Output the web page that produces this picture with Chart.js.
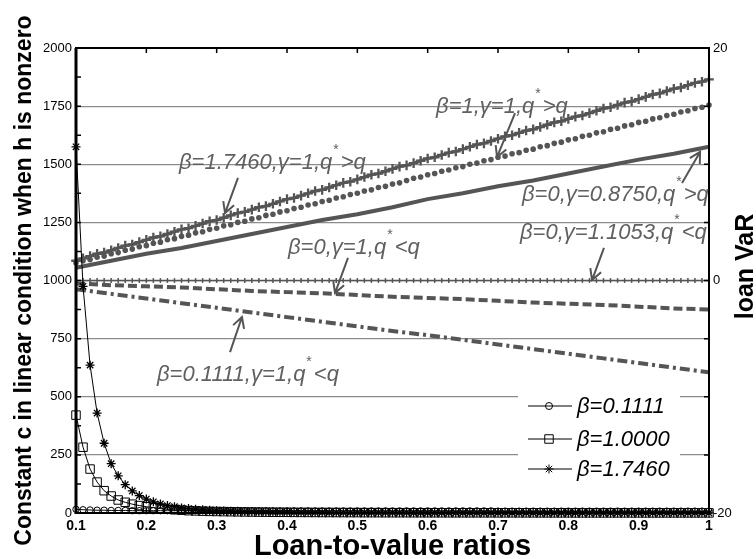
<!DOCTYPE html>
<html><head><meta charset="utf-8">
<script src="https://cdn.jsdelivr.net/npm/chart.js@4"></script>
<style>html,body{margin:0;padding:0;background:#fff}canvas{display:block}</style>
</head><body>
<canvas id="c" width="756" height="559"></canvas>
<script>
// ---------- data ----------
const ltv = [0.10,0.11,0.12,0.13,0.14,0.15,0.16,0.17,0.18,0.19,
  0.20,0.21,0.22,0.23,0.24,0.25,0.26,0.27,0.28,0.29,
  0.30,0.31,0.32,0.33,0.34,0.35,0.36,0.37,0.38,0.39,
  0.40,0.41,0.42,0.43,0.44,0.45,0.46,0.47,0.48,0.49,
  0.50,0.51,0.52,0.53,0.54,0.55,0.56,0.57,0.58,0.59,
  0.60,0.61,0.62,0.63,0.64,0.65,0.66,0.67,0.68,0.69,
  0.70,0.71,0.72,0.73,0.74,0.75,0.76,0.77,0.78,0.79,
  0.80,0.81,0.82,0.83,0.84,0.85,0.86,0.87,0.88,0.89,
  0.90,0.91,0.92,0.93,0.94,0.95,0.96,0.97,0.98,0.99,1.00];
const ltvCoarse = [0.10,0.15,0.20,0.25,0.30,0.35,0.40,0.45,0.50,0.55,0.60,0.65,0.70,0.75,0.80,0.85,0.90,0.95,1.00];

// Constant c (left axis), beta = 0.1111 / 1.0000 / 1.7460
const cBeta01111 = [16,14,13,12,12,11,11,11,10,10,
  10,10,10,10,10,10,10,10,10,10,
  9,9,9,9,9,9,9,9,9,9,
  9,9,9,9,9,9,9,9,9,9,
  9,9,9,9,9,9,9,9,9,9,
  9,9,9,9,9,9,9,9,9,9,
  8,8,8,8,8,8,8,8,8,8,
  8,8,8,8,8,8,8,8,8,8,
  8,8,8,8,8,8,8,8,8,8,8];
const cBeta10000 = [421,283,189,133,96,73,56,46,38,32,
  27,23,19,16,14,12,10,9,8,7,
  6.5,6,5.5,5,4.6,4.2,3.9,3.6,3.3,3.1,
  2.9,2.7,2.5,2.4,2.2,2.1,2.0,1.9,1.8,1.7,
  1.6,1.5,1.5,1.4,1.3,1.3,1.2,1.2,1.1,1.1,
  1.0,1.0,1.0,0.9,0.9,0.9,0.8,0.8,0.8,0.8,
  0.7,0.7,0.7,0.7,0.7,0.6,0.6,0.6,0.6,0.6,
  0.6,0.5,0.5,0.5,0.5,0.5,0.5,0.5,0.5,0.4,
  0.4,0.4,0.4,0.4,0.4,0.4,0.4,0.4,0.4,0.4,0.4];
const cBeta17460 = [1575,975,636,430,300,212,160,122,95,75,
  60,48,39,32,27,22,19,16,14,12,
  10,9,8,7,6,5.5,5,4.5,4,3.7,
  3.4,3.1,2.9,2.7,2.5,2.3,2.2,2.0,1.9,1.8,
  1.7,1.6,1.5,1.4,1.4,1.3,1.2,1.2,1.1,1.1,
  1.0,1.0,0.9,0.9,0.9,0.8,0.8,0.8,0.7,0.7,
  0.7,0.7,0.6,0.6,0.6,0.6,0.5,0.5,0.5,0.5,
  0.5,0.5,0.4,0.4,0.4,0.4,0.4,0.4,0.4,0.3,
  0.3,0.3,0.3,0.3,0.3,0.3,0.3,0.3,0.3,0.3,0.3];

// loan VaR (right axis)
const varB17460G1 = [1.7,1.9,2.1,2.3,2.4,2.6,2.8,3.0,3.1,3.3,
  3.5,3.7,3.8,4.0,4.2,4.4,4.5,4.7,4.9,5.1,
  5.2,5.4,5.6,5.8,5.9,6.1,6.3,6.4,6.6,6.8,
  7.0,7.1,7.3,7.5,7.7,7.8,8.0,8.2,8.4,8.5,
  8.7,8.9,9.1,9.2,9.4,9.6,9.8,9.9,10.1,10.3,
  10.5,10.6,10.8,11.0,11.1,11.3,11.5,11.7,11.8,12.0,
  12.2,12.4,12.5,12.7,12.9,13.0,13.2,13.4,13.6,13.7,
  13.9,14.1,14.2,14.4,14.6,14.8,14.9,15.1,15.3,15.4,
  15.6,15.8,16.0,16.1,16.3,16.5,16.6,16.8,17.0,17.1,17.3];
const varB1G1 = [1.5,1.7,1.8,2.0,2.1,2.3,2.4,2.6,2.7,2.9,
  3.0,3.2,3.3,3.5,3.6,3.8,3.9,4.1,4.2,4.4,
  4.5,4.7,4.8,5.0,5.1,5.3,5.4,5.6,5.7,5.9,
  6.0,6.2,6.3,6.5,6.6,6.8,6.9,7.1,7.2,7.4,
  7.5,7.7,7.8,8.0,8.1,8.3,8.4,8.6,8.8,8.9,
  9.1,9.2,9.4,9.5,9.7,9.8,10.0,10.1,10.3,10.4,
  10.6,10.7,10.9,11.0,11.2,11.3,11.5,11.6,11.8,11.9,
  12.1,12.2,12.4,12.5,12.7,12.8,13.0,13.1,13.3,13.4,
  13.6,13.7,13.9,14.0,14.2,14.3,14.5,14.6,14.8,14.9,15.1];
const varB0G11053 = [0,0,0,0,0,0,0,0,0,0,
  0,0,0,0,0,0,0,0,0,0,
  0,0,0,0,0,0,0,0,0,0,
  0,0,0,0,0,0,0,0,0,0,
  0,0,0,0,0,0,0,0,0,0,
  0,0,0,0,0,0,0,0,0,0,
  0,0,0,0,0,0,0,0,0,0,
  0,0,0,0,0,0,0,0,0,0,
  0,0,0,0,0,0,0,0,0,0,0];
const varB0G08750 = [1.1,1.7,2.3,2.8,3.4,4.0,4.6,5.2,5.7,6.3,7.0,7.5,8.1,8.6,9.2,9.8,10.4,10.9,11.5];
const varB0G1 = [-0.25,-0.4,-0.5,-0.6,-0.75,-0.9,-1.0,-1.1,-1.25,-1.4,-1.5,-1.6,-1.75,-1.9,-2.0,-2.1,-2.25,-2.4,-2.5];
const varB01111G1 = [-0.75,-1.15,-1.55,-1.95,-2.35,-2.75,-3.15,-3.55,-3.95,-4.35,-4.7,-5.1,-5.5,-5.9,-6.3,-6.7,-7.1,-7.5,-7.9];

const xTickLabels = ['0.1','0.2','0.3','0.4','0.5','0.6','0.7','0.8','0.9','1'];
const yTickLabels = ['0','250','500','750','1000','1250','1500','1750','2000'];
const y1TickLabels = ['-20','0','20'];
const xTickValues = [0.1,0.2,0.3,0.4,0.5,0.6,0.7,0.8,0.9,1.0];
const yMinorTicks = [0,125,250,375,500,625,750,875,1000,1125,1250,1375,1500,1625,1750,1875,2000];
const y1MinorTicks = [-20,-15,-10,-5,0,5,10,15,20];

const legendLabels = ['\u03B2=0.1111','\u03B2=1.0000','\u03B2=1.7460'];
const xTitle = 'Loan-to-value ratios';
const yTitle = 'Constant c in linear condition when h is nonzero';
const y1Title = 'loan VaR';

// annotations: text parts, anchor (x, left-axis value), arrow from/to in data units
const annotations = [
  {pre:'\u03B2=1,\u03B3=1,q', post:'>q', x:0.612, y:1746, from:[0.7242,1720], to:[0.6986,1531]},
  {pre:'\u03B2=1.7460,\u03B3=1,q', post:'>q', x:0.2465, y:1505, from:[0.3303,1441], to:[0.3119,1290]},
  {pre:'\u03B2=0,\u03B3=0.8750,q', post:'>q', x:0.7342, y:1368, from:[0.9617,1419], to:[0.9873,1553]},
  {pre:'\u03B2=0,\u03B3=1.1053,q', post:'<q', x:0.7313, y:1204, from:[0.8507,1140], to:[0.8337,1002]},
  {pre:'\u03B2=0,\u03B3=1,q', post:'<q', x:0.4014, y:1140, from:[0.4867,1097], to:[0.4683,946]},
  {pre:'\u03B2=0.1111,\u03B3=1,q', post:'<q', x:0.2152, y:594, from:[0.319,692], to:[0.336,843]}
];

// ---------- build ----------
const pts = (xs, ys) => xs.map((x, i) => ({x: x, y: ys[i]}));
const FONT = 'Arial, "Liberation Sans", sans-serif';
const GRAY = '#555555';

const blackSeries = (data, style, radius, bw) => ({
  data, yAxisID:'y', borderColor:'#000', borderWidth:1,
  pointStyle:style, pointRadius:radius, pointBorderColor:'#000',
  pointBackgroundColor:'rgba(0,0,0,0)', pointBorderWidth:bw, clip:false
});

const datasets = [
  blackSeries(pts(ltv, cBeta01111), 'circle', 3.2, 1),
  blackSeries(pts(ltv, cBeta10000), 'rect', 6, 1),
  blackSeries(pts(ltv, cBeta17460), 'star', 4.5, 1.3),
  {data: pts(ltv, varB17460G1), yAxisID:'y1', borderColor:GRAY, borderWidth:3,
   pointStyle:'cross', pointRadius:4.8, pointBorderColor:GRAY, pointBorderWidth:2.3, clip:false},
  {data: pts(ltv, varB1G1), yAxisID:'y1', showLine:false,
   pointStyle:'circle', pointRadius:2.8, pointBackgroundColor:GRAY, pointBorderColor:GRAY, pointBorderWidth:0, clip:false},
  {data: pts(ltvCoarse, varB0G08750), yAxisID:'y1', borderColor:GRAY, borderWidth:4, pointRadius:0, clip:false},
  {data: pts(ltv, varB0G11053), yAxisID:'y1', borderColor:GRAY, borderWidth:1.5,
   pointStyle:'line', pointRotation:90, pointRadius:2.4, pointBorderColor:GRAY, pointBorderWidth:1.5, clip:false},
  {data: pts(ltvCoarse, varB0G1), yAxisID:'y1', borderColor:GRAY, borderWidth:4, borderDash:[9,4], pointRadius:0, clip:false},
  {data: pts(ltvCoarse, varB01111G1), yAxisID:'y1', borderColor:GRAY, borderWidth:4, borderDash:[10,4,3,4], pointRadius:0, clip:false}
];

function drawArrow(ctx, x1, y1, x2, y2) {
  const ang = Math.atan2(y2 - y1, x2 - x1), L = 12, s = 0.5;
  ctx.beginPath();
  ctx.moveTo(x1, y1); ctx.lineTo(x2, y2);
  ctx.moveTo(x2 - L * Math.cos(ang - s), y2 - L * Math.sin(ang - s));
  ctx.lineTo(x2, y2);
  ctx.lineTo(x2 - L * Math.cos(ang + s), y2 - L * Math.sin(ang + s));
  ctx.stroke();
}

function drawMarker(ctx, style, x, y, r) {
  ctx.beginPath();
  if (style === 'circle') { ctx.arc(x, y, r, 0, Math.PI * 2); }
  else if (style === 'rect') { const h = r * Math.SQRT1_2; ctx.rect(x - h, y - h, 2 * h, 2 * h); }
  else {
    for (let k = 0; k < 4; k++) {
      const a = k * Math.PI / 4;
      ctx.moveTo(x - r * Math.cos(a), y - r * Math.sin(a));
      ctx.lineTo(x + r * Math.cos(a), y + r * Math.sin(a));
    }
  }
  ctx.stroke();
}

const overlay = {
  id: 'overlay',
  afterDatasetsDraw(chart) {
    const {ctx, chartArea: a, scales} = chart;
    const sx = scales.x, sy = scales.y, sy1 = scales.y1;
    ctx.save();
    // box
    ctx.strokeStyle = '#000';
    ctx.lineWidth = 2;
    ctx.strokeRect(a.left, a.top, a.right - a.left, a.bottom - a.top);
    ctx.lineWidth = 3;
    ctx.beginPath(); ctx.moveTo(a.left, a.top); ctx.lineTo(a.left, a.bottom + 1); ctx.stroke();
    // inner ticks
    ctx.lineWidth = 1.5;
    ctx.beginPath();
    yMinorTicks.forEach(v => { const p = sy.getPixelForValue(v); ctx.moveTo(a.left, p); ctx.lineTo(a.left + 5, p); });
    y1MinorTicks.forEach(v => { const p = sy1.getPixelForValue(v); ctx.moveTo(a.right, p); ctx.lineTo(a.right - 5, p); });
    xTickValues.forEach(v => { const p = sx.getPixelForValue(v);
      ctx.moveTo(p, a.top); ctx.lineTo(p, a.top + 5);
      ctx.moveTo(p, a.bottom); ctx.lineTo(p, a.bottom - 5); });
    ctx.stroke();

    // legend
    const lx = a.right - 191, ly = a.top + 340;
    ctx.fillStyle = '#fff';
    ctx.fillRect(lx, ly, 162, 96);
    const styles = ['circle', 'rect', 'star'], radii = [3.5, 6, 4.5];
    const rows = [a.top + 358, a.top + 391, a.top + 421];
    ctx.strokeStyle = '#000'; ctx.lineWidth = 1;
    ctx.font = 'italic 22px ' + FONT;
    ctx.textAlign = 'left'; ctx.textBaseline = 'middle';
    rows.forEach((ry, i) => {
      ctx.beginPath(); ctx.moveTo(a.right - 181, ry); ctx.lineTo(a.right - 137, ry); ctx.stroke();
      ctx.fillStyle = '#fff';
      drawMarker(ctx, styles[i], a.right - 160, ry, radii[i]);
      ctx.fillStyle = '#000';
      ctx.fillText(legendLabels[i], a.right - 132, ry + 1);
    });

    // annotations
    annotations.forEach(an => {
      const px = sx.getPixelForValue(an.x), py = sy.getPixelForValue(an.y);
      ctx.fillStyle = '#606060';
      ctx.font = 'italic 22px ' + FONT;
      ctx.textBaseline = 'middle'; ctx.textAlign = 'left';
      ctx.fillText(an.pre, px, py);
      const w = ctx.measureText(an.pre).width;
      ctx.font = '14px ' + FONT;
      ctx.fillText('*', px + w + 1, py - 13);
      const sw = ctx.measureText('*').width;
      ctx.font = 'italic 22px ' + FONT;
      ctx.fillText(an.post, px + w + sw + 3, py);
      ctx.strokeStyle = GRAY; ctx.lineWidth = 2;
      drawArrow(ctx, sx.getPixelForValue(an.from[0]), sy.getPixelForValue(an.from[1]),
                     sx.getPixelForValue(an.to[0]), sy.getPixelForValue(an.to[1]));
    });

    // right axis title (reads bottom-to-top)
    ctx.save();
    ctx.translate(753, (a.top + a.bottom) / 2 - 14);
    ctx.rotate(-Math.PI / 2);
    ctx.fillStyle = '#000';
    ctx.font = 'bold 25px ' + FONT;
    ctx.textAlign = 'center'; ctx.textBaseline = 'alphabetic';
    ctx.fillText(y1Title, 0, 0);
    ctx.restore();
    ctx.restore();
  }
};

new Chart(document.getElementById('c'), {
  type: 'line',
  data: {datasets},
  options: {
    responsive: false, animation: false, devicePixelRatio: 1,
    layout: {padding: {top: 48, left: 0, right: 0, bottom: 0}},
    plugins: {legend: {display: false}, tooltip: {enabled: false}},
    scales: {
      x: {
        type: 'linear', position: 'bottom', min: 0.1, max: 1,
        afterFit(s) { s.height = 46; },
        ticks: {stepSize: 0.1, autoSkip: false, maxRotation: 0, padding: 5, color: '#000',
          font: {family: FONT, size: 14, weight: 'bold'},
          callback: v => xTickLabels[Math.round(v * 10) - 1]},
        grid: {display: false, drawTicks: false},
        border: {display: false},
        title: {display: true, text: xTitle, color: '#000',
          font: {family: FONT, size: 29, weight: 'bold', lineHeight: 0.86}, padding: 0}
      },
      y: {
        type: 'linear', position: 'left', min: 0, max: 2000,
        afterFit(s) { s.width = 76; },
        ticks: {stepSize: 250, padding: 4, color: '#000', font: {family: FONT, size: 13},
          callback: v => yTickLabels[Math.round(v / 250)]},
        grid: {drawTicks: false, lineWidth: 1.2,
          color: c => (c.tick && (c.tick.value === 0 || c.tick.value === 2000)) ? 'rgba(0,0,0,0)' : '#8c8c8c'},
        border: {display: false},
        title: {display: true, text: yTitle, color: '#000',
          font: {family: FONT, size: 23, weight: 'bold', lineHeight: 1}, padding: {top: 13, bottom: 0}}
      },
      y1: {
        type: 'linear', position: 'right', min: -20, max: 20,
        afterFit(s) { s.width = 47; },
        ticks: {stepSize: 20, padding: 4, color: '#000', font: {family: FONT, size: 13},
          callback: v => y1TickLabels[Math.round((v + 20) / 20)]},
        grid: {display: false, drawTicks: false},
        border: {display: false}
      }
    }
  },
  plugins: [overlay]
});
</script>
</body></html>
